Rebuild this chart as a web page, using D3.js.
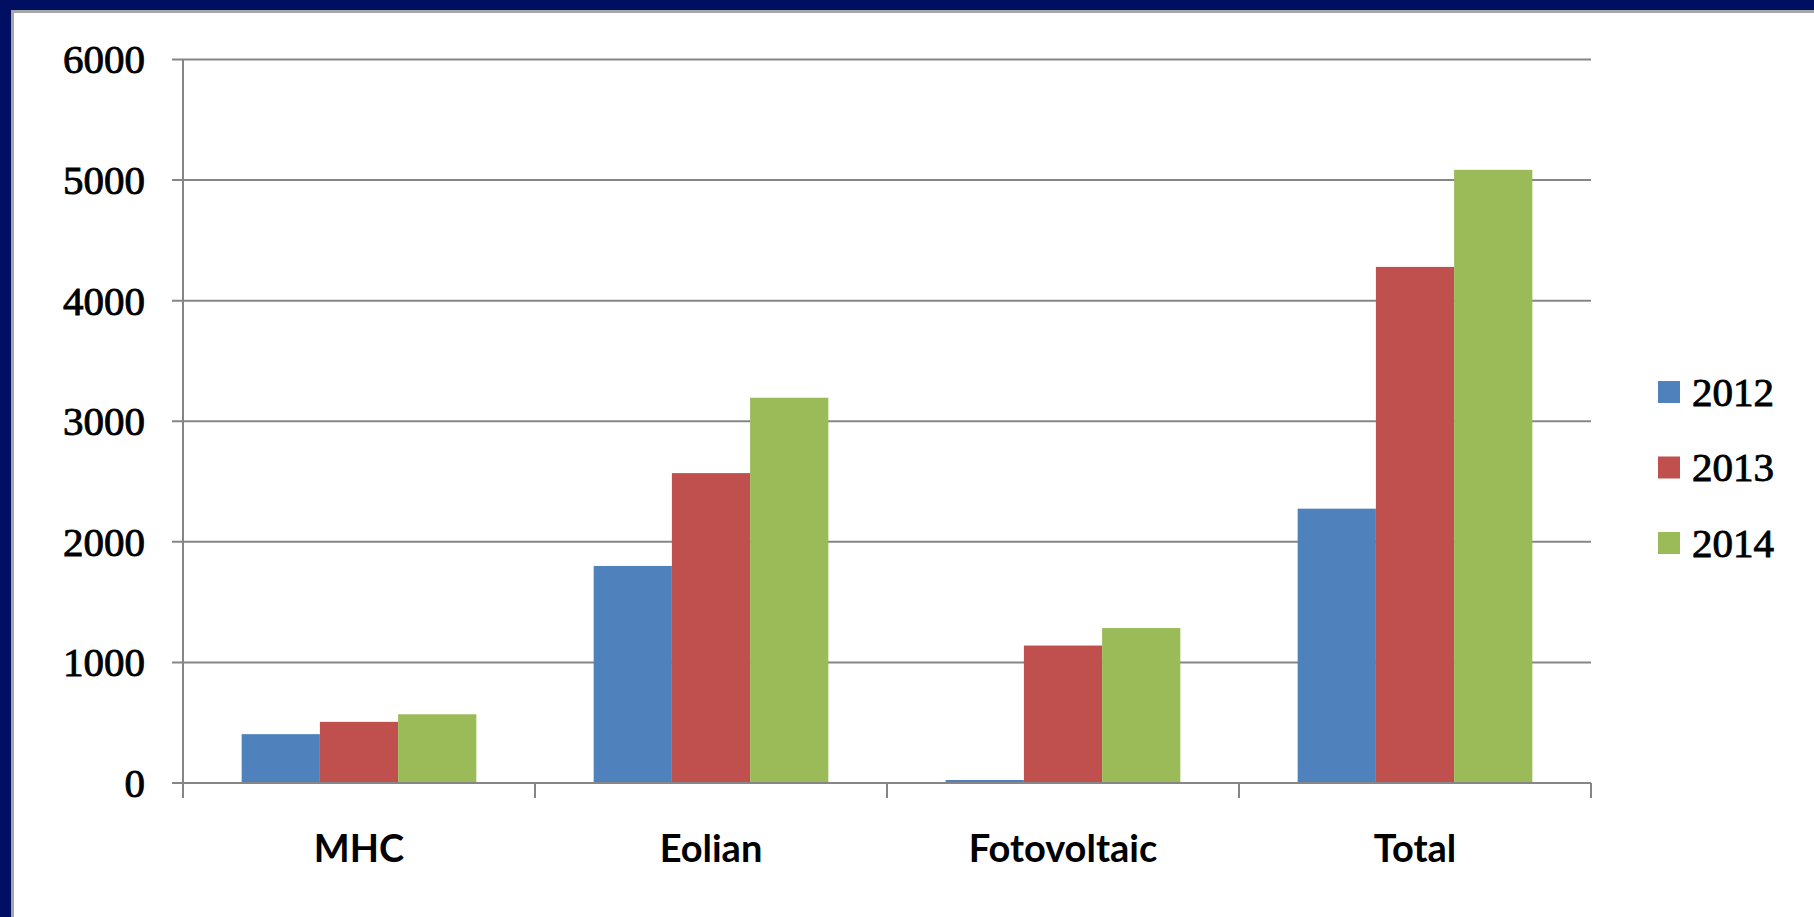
<!DOCTYPE html>
<html>
<head>
<meta charset="utf-8">
<script src="https://cdn.jsdelivr.net/npm/d3@7"></script>
<style>
  html, body { margin: 0; background: #ffffff; overflow: hidden; }
  svg { display: block; }
</style>
</head>
<body>
<div id="chart"></div>
<script>
// Data
var categories = ["MHC", "Eolian", "Fotovoltaic", "Total"];
var years = ["2012", "2013", "2014"];
var values2012 = [405, 1800, 25, 2275];
var values2013 = [507, 2570, 1140, 4280];
var values2014 = [570, 3195, 1285, 5085];
var yTicks = [0, 1000, 2000, 3000, 4000, 5000, 6000];
var colors = ["#4f81bd", "#c0504d", "#9bbb59"];

var series = [values2012, values2013, values2014];

var svgWidth = 1814;
var svgHeight = 917;

var plot = { left: 183, right: 1591, top: 59.5, bottom: 783 };

var svg = d3.select("#chart")
    .append("svg")
    .attr("width", svgWidth)
    .attr("height", svgHeight);

// navy slide strips on top and left, white panel with grey edge
svg.append("rect")
    .attr("width", svgWidth).attr("height", 12)
    .attr("fill", "#000f62");
svg.append("rect")
    .attr("width", 13).attr("height", svgHeight)
    .attr("fill", "#000f62");

svg.append("path")
    .attr("d", `M12.5,${svgHeight}V11.5H${svgWidth}`)
    .attr("fill", "none")
    .attr("stroke", "#a6a6a6")
    .attr("stroke-width", 3);

// scales
var x0 = d3.scaleBand()
    .domain(categories)
    .range([plot.left, plot.right])
    .paddingInner(1 / 3)
    .paddingOuter(1 / 6);

var x1 = d3.scaleBand()
    .domain(years)
    .range([0, x0.bandwidth()]);

var y = d3.scaleLinear()
    .domain([0, 6000])
    .range([plot.bottom, plot.top]);

// gridlines + left ticks
svg.append("g")
    .selectAll("line")
    .data(yTicks)
    .enter()
    .append("line")
    .attr("x1", plot.left - 11)
    .attr("x2", plot.right)
    .attr("y1", d => y(d))
    .attr("y2", d => y(d))
    .attr("stroke", "#868686")
    .attr("stroke-width", 2);

// y labels
svg.append("g")
    .selectAll("text")
    .data(yTicks)
    .enter()
    .append("text")
    .attr("x", 145)
    .attr("y", d => y(d))
    .attr("dy", "0.34em")
    .attr("text-anchor", "end")
    .attr("font-family", "Liberation Serif")
    .attr("font-size", 41)
    .attr("fill", "#000")
    .attr("stroke", "#000")
    .attr("stroke-width", 0.9)
    .text(d => d);

// bars
var groups = svg.append("g")
    .selectAll("g")
    .data(categories)
    .enter()
    .append("g")
    .attr("transform", d => `translate(${x0(d)},0)`);

groups.selectAll("rect")
    .data((d, i) => years.map((yr, j) => ({ year: yr, value: series[j][i], k: j })))
    .enter()
    .append("rect")
    .attr("x", d => x1(d.year))
    .attr("y", d => y(d.value))
    .attr("width", x1.bandwidth())
    .attr("height", d => y(0) - y(d.value))
    .attr("fill", d => colors[d.k]);

// axes lines
svg.append("line")
    .attr("x1", plot.left).attr("x2", plot.left)
    .attr("y1", plot.top).attr("y2", plot.bottom + 15)
    .attr("stroke", "#868686").attr("stroke-width", 2);

svg.append("line")
    .attr("x1", plot.left - 11).attr("x2", plot.right)
    .attr("y1", plot.bottom).attr("y2", plot.bottom)
    .attr("stroke", "#868686").attr("stroke-width", 2);

// category tick marks at band boundaries
var step = x0.step();
var bounds = d3.range(categories.length + 1).map(i => plot.left + i * step);
svg.append("g")
    .selectAll("line")
    .data(bounds)
    .enter()
    .append("line")
    .attr("x1", d => d).attr("x2", d => d)
    .attr("y1", plot.bottom).attr("y2", plot.bottom + 15)
    .attr("stroke", "#868686").attr("stroke-width", 2);

// category labels
svg.append("g")
    .selectAll("text")
    .data(categories)
    .enter()
    .append("text")
    .attr("x", d => x0(d) + x0.bandwidth() / 2)
    .attr("y", 862)
    .attr("text-anchor", "middle")
    .attr("font-family", "Lato")
    .attr("font-weight", "bold")
    .attr("font-size", 38)
    .attr("fill", "#000")
    .text(d => d);

// legend
var legend = svg.append("g")
    .selectAll("g")
    .data(years)
    .enter()
    .append("g")
    .attr("transform", (d, i) => `translate(1658, ${392 + i * 75.5})`);

legend.append("rect")
    .attr("x", 0).attr("y", -11)
    .attr("width", 22).attr("height", 22)
    .attr("fill", (d, i) => colors[i]);

legend.append("text")
    .attr("x", 34)
    .attr("y", 0)
    .attr("dy", "0.34em")
    .attr("font-family", "Liberation Serif")
    .attr("font-size", 41)
    .attr("fill", "#000")
    .attr("stroke", "#000")
    .attr("stroke-width", 0.9)
    .text(d => d);
</script>
</body>
</html>
